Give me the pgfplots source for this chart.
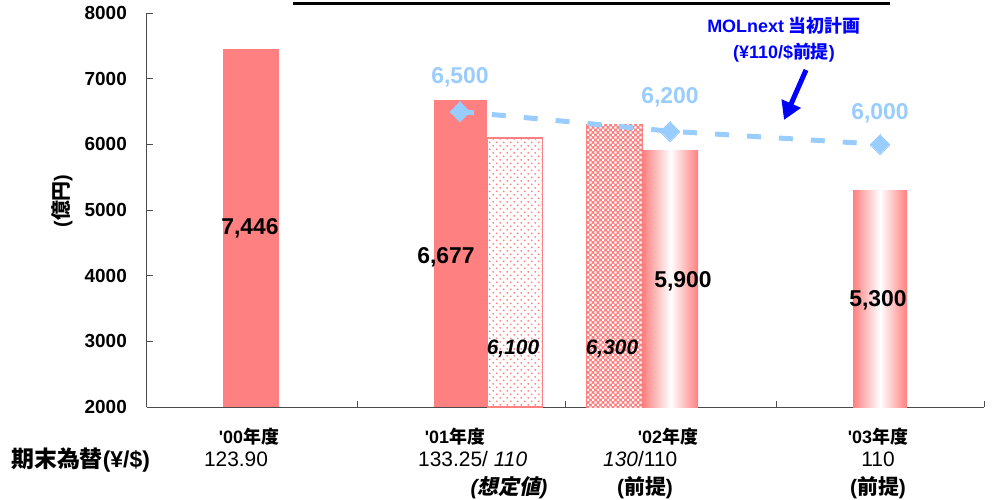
\documentclass[border=0pt]{standalone}
\usepackage{pgfplots}
\pgfplotsset{compat=1.18}
\usepackage{fontspec}
\setmainfont{Liberation Sans}
\newfontfamily\jp{Noto Sans CJK JP}
\newfontfamily\jpit{Noto Sans CJK JP}[FakeSlant=0.2]
\usetikzlibrary{patterns,arrows.meta}

\definecolor{barred}{HTML}{FF8080}
\definecolor{lightblue}{HTML}{99CCFF}
\definecolor{annblue}{HTML}{0000FF}

\pgfdeclarepatternformonly{sparsedots}{\pgfqpoint{0pt}{0pt}}{\pgfqpoint{7pt}{7pt}}{\pgfqpoint{7pt}{7pt}}{%
  \pgfpathcircle{\pgfqpoint{1.75pt}{1.75pt}}{1pt}%
  \pgfpathcircle{\pgfqpoint{5.25pt}{5.25pt}}{1pt}%
  \pgfusepath{fill}}
\pgfdeclarepatternformonly{checks}{\pgfqpoint{0pt}{0pt}}{\pgfqpoint{5pt}{5pt}}{\pgfqpoint{5pt}{5pt}}{%
  \pgfpathrectangle{\pgfqpoint{0pt}{0pt}}{\pgfqpoint{2.2pt}{2.2pt}}%
  \pgfpathrectangle{\pgfqpoint{2.5pt}{2.5pt}}{\pgfqpoint{2.2pt}{2.2pt}}%
  \pgfusepath{fill}}

\newcommand\fs[1]{\fontsize{#1}{#1}\selectfont}
% pixel position of the reference -> axis coordinates
\newcommand\pc[2]{(axis cs:{#1-147},{2000+(407-#2)*15.2284})}

\begin{document}
\begin{tikzpicture}
\begin{axis}[
    scale only axis, width=837bp, height=394bp,
    xmin=0, xmax=837, ymin=2000, ymax=8000,
    axis lines*=left,
    axis line style={line width=1bp, black!70},
    xtick={0,210,418,629,837}, xticklabels={},
    ytick={2000,3000,4000,5000,6000,7000,8000},
    tick align=inside, major tick length=6bp,
    tick style={line width=1bp, black!70},
    yticklabel style={font=\fs{19}\bfseries, inner sep=0pt, xshift=-20bp},
    /pgf/number format/1000 sep={},
    /pgf/number format/assume math mode=true,
    scaled y ticks=false,
    clip mode=individual,
]
% '00 actual
\addplot[ybar, bar shift=0pt, bar width=56, fill=barred, draw=none] coordinates {(104,7446)};
% '01 actual
\addplot[ybar, bar shift=0pt, bar width=53, fill=barred, draw=none] coordinates {(313.5,6677)};
% '01 forecast (dots)
\addplot[ybar, bar shift=0pt, bar width=55, draw=barred, line width=1.5bp,
    pattern=sparsedots, pattern color=barred] coordinates {(368,6100)};
% '02 checkered
\addplot[ybar, bar shift=0pt, bar width=56, fill=barred, draw=barred, line width=1bp] coordinates {(467.5,6300)};
\addplot[ybar, bar shift=0pt, bar width=55, draw=none, pattern=checks, pattern color=white, forget plot] coordinates {(467.5,6300)};
% '02 and '03 plan (cylinder)
\addplot[ybar, bar shift=0pt, bar width=55, draw=none,
    left color=barred, right color=barred, middle color=white] coordinates {(523.5,5900)};
\addplot[ybar, bar shift=0pt, bar width=54, draw=none,
    left color=barred, right color=barred, middle color=white] coordinates {(733,5300)};
% MOLnext initial plan
\addplot[lightblue, line width=5bp, dash pattern=on 14bp off 18bp,
    mark=square*, mark size=7bp, mark options={solid, rotate=45, line width=0pt}]
    coordinates {(313,6500) (523,6200) (733,6000)};

% value labels
\node[font=\fs{23}\bfseries] at \pc{250}{228} {7,446};
\node[font=\fs{23}\bfseries] at \pc{446}{257} {6,677};
\node[font=\fs{21}\bfseries\itshape] at \pc{513}{349} {6,100};
\node[font=\fs{21}\bfseries\itshape] at \pc{612}{349} {6,300};
\node[font=\fs{23}\bfseries] at \pc{683}{281} {5,900};
\node[font=\fs{23}\bfseries] at \pc{878}{300} {5,300};
\node[font=\fs{23}\bfseries, text=lightblue] at \pc{460}{77} {6,500};
\node[font=\fs{23}\bfseries, text=lightblue] at \pc{670}{97} {6,200};
\node[font=\fs{23}\bfseries, text=lightblue] at \pc{880}{113} {6,000};

% annotation
\node[font=\fs{18}\bfseries, text=annblue] at \pc{784}{26} {MOLnext {\jp\bfseries 当初計画}};
\node[font=\fs{18}\bfseries, text=annblue] at \pc{784}{53} {(¥110/\${\jp\bfseries 前提})};
\draw[annblue, line width=5bp, -{Triangle[length=18bp, width=20bp]}] \pc{806}{70} -- \pc{784}{120};

% y label
\node[font=\fs{20}\bfseries, rotate=90] at \pc{62}{201} {({\jp\bfseries 億円})};

% clipped title underline
\draw[line width=3bp] \pc{293}{3} -- \pc{890}{3};

% x labels
\node[font=\fs{18}\bfseries] at \pc{249}{437} {\textquotesingle00{\jp\bfseries 年度}};
\node[font=\fs{18}\bfseries] at \pc{455}{437} {\textquotesingle01{\jp\bfseries 年度}};
\node[font=\fs{18}\bfseries] at \pc{668}{437} {\textquotesingle02{\jp\bfseries 年度}};
\node[font=\fs{18}\bfseries] at \pc{878}{437} {\textquotesingle03{\jp\bfseries 年度}};
\node[font=\fs{23}\bfseries, anchor=west, inner sep=0pt] at \pc{11}{460} {{\jp\bfseries 期末為替}(¥/\$)};
\node[font=\fs{21}] at \pc{236}{459} {123.90};
\node[font=\fs{21}, anchor=west, inner sep=0pt] at \pc{418}{459} {133.25/ \textit{110}};
\node[font=\fs{21}, anchor=west, inner sep=0pt] at \pc{603}{459} {\textit{130}/110};
\node[font=\fs{21}] at \pc{878}{459} {110};
\node[font=\fs{21}\bfseries\itshape] at \pc{509}{488} {({\jpit\bfseries 想定値})};
\node[font=\fs{21}\bfseries] at \pc{645}{488} {({\jp\bfseries 前提})};
\node[font=\fs{21}\bfseries] at \pc{878}{488} {({\jp\bfseries 前提})};
\end{axis}
\pgfresetboundingbox
\path[use as bounding box] ([xshift=-147bp, yshift=-93bp]current axis.south west)
    rectangle ([xshift=846bp, yshift=407bp]current axis.south west);
\end{tikzpicture}
\end{document}
